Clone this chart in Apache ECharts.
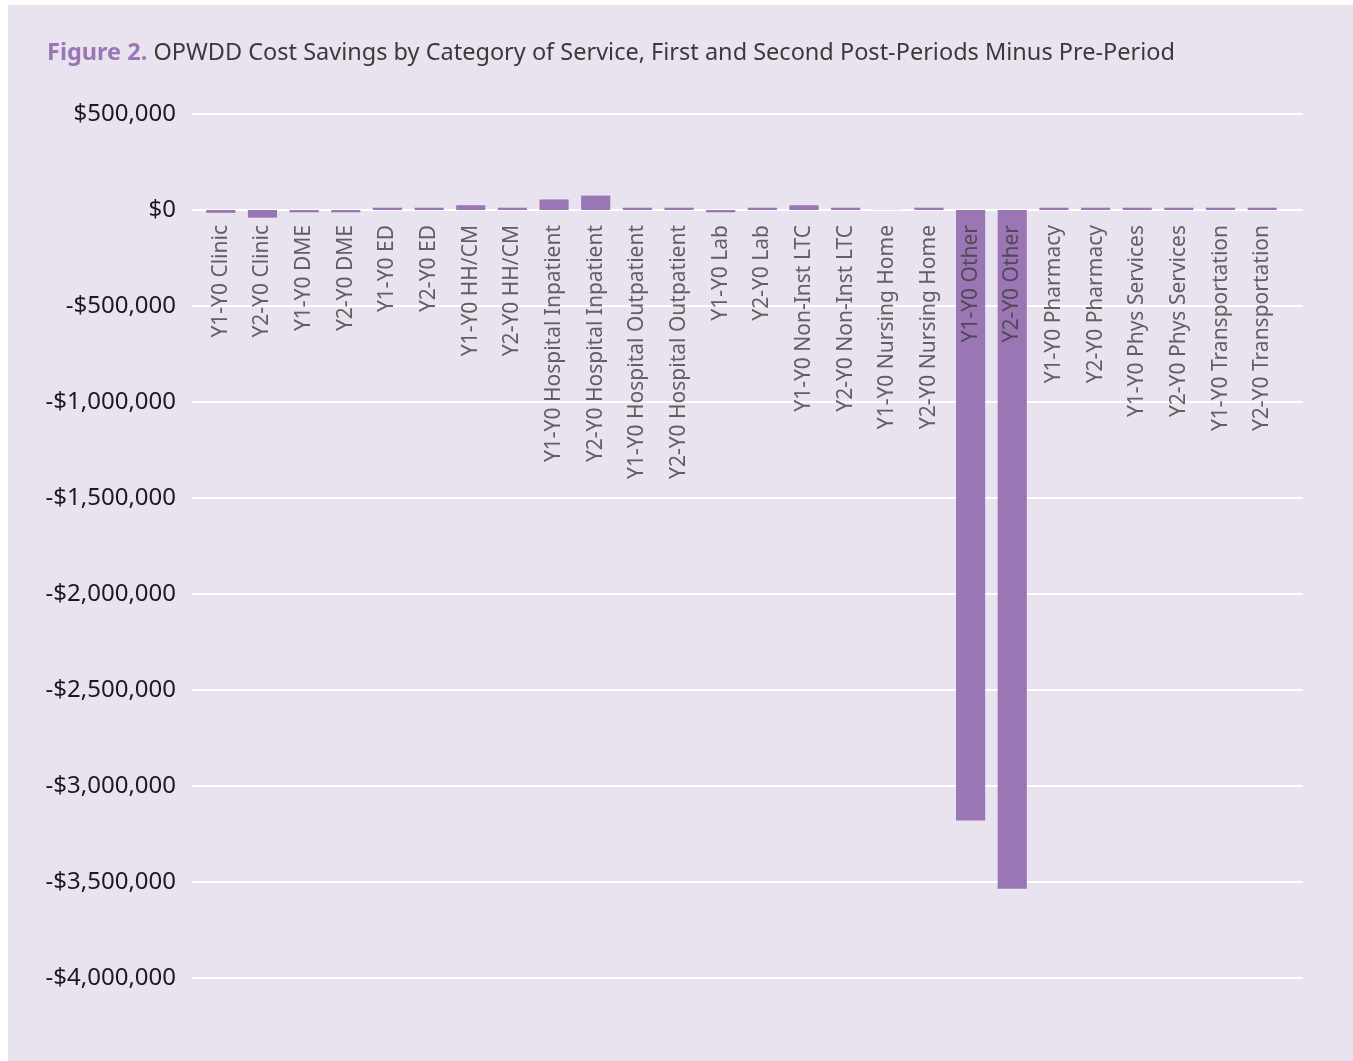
<!DOCTYPE html>
<html>
<head>
<meta charset="utf-8">
<script src="https://cdn.jsdelivr.net/npm/echarts@6/dist/echarts.min.js"></script>
<style>
  html, body { margin: 0; padding: 0; background: #ffffff; }
  #chart { position: absolute; left: 8px; top: 5px; width: 1345px; height: 1056px; background: #e9e3ef; }
</style>
</head>
<body>
<div id="chart"></div>
<script>
// categories (Y1 = first post-period, Y2 = second post-period, minus Y0 pre-period)
const categories = [
  'Y1-Y0 Clinic', 'Y2-Y0 Clinic',
  'Y1-Y0 DME', 'Y2-Y0 DME',
  'Y1-Y0 ED', 'Y2-Y0 ED',
  'Y1-Y0 HH/CM', 'Y2-Y0 HH/CM',
  'Y1-Y0 Hospital Inpatient', 'Y2-Y0 Hospital Inpatient',
  'Y1-Y0 Hospital Outpatient', 'Y2-Y0 Hospital Outpatient',
  'Y1-Y0 Lab', 'Y2-Y0 Lab',
  'Y1-Y0 Non-Inst LTC', 'Y2-Y0 Non-Inst LTC',
  'Y1-Y0 Nursing Home', 'Y2-Y0 Nursing Home',
  'Y1-Y0 Other', 'Y2-Y0 Other',
  'Y1-Y0 Pharmacy', 'Y2-Y0 Pharmacy',
  'Y1-Y0 Phys Services', 'Y2-Y0 Phys Services',
  'Y1-Y0 Transportation', 'Y2-Y0 Transportation'
];

// cost savings in dollars (estimated from the figure)
const savings = [
  -15000, -40000,
  -12000, -12000,
  12000, 12000,
  25000, 12000,
  55000, 75000,
  12000, 12000,
  -12000, 12000,
  25000, 12000,
  1000, 12000,
  -3180000, -3535000,
  12000, 12000,
  12000, 12000,
  12000, 12000
];

const yTicks = { min: -4000000, max: 500000, interval: 500000 };

const chart = echarts.init(document.getElementById('chart'), null, { renderer: 'canvas' });

const fmtMoney = v => {
  const s = '$' + Math.abs(v).toLocaleString('en-US');
  return v < 0 ? '-' + s : s;
};

const FONT = 'Noto Sans';

chart.setOption({
  backgroundColor: '#e9e3ef',
  animation: false,
  title: {
    left: 34,
    top: 31,
    text: '{b|Figure 2.} OPWDD Cost Savings by Category of Service, First and Second Post-Periods Minus Pre-Period',
    textStyle: {
      fontFamily: FONT,
      fontSize: 23.5,
      fontWeight: 'normal',
      color: '#3a3a3a',
      rich: {
        b: { fontFamily: FONT, fontSize: 23.5, fontWeight: 'bold', color: '#9b76b4' }
      }
    }
  },
  // grid 0 carries the gridlines and the y labels, grid 1 (a bit narrower) the bars
  grid: [
    { left: 184, right: 50, top: 109, bottom: 83, outerBoundsMode: 'none' },
    { left: 192, right: 70, top: 109, bottom: 83, outerBoundsMode: 'none' }
  ],
  xAxis: [
    { type: 'category', gridIndex: 0, data: categories, show: false },
    {
      type: 'category',
      gridIndex: 1,
      data: categories,
      axisLine: { show: false },
      axisTick: { show: false },
      axisLabel: { show: false }
    }
  ],
  yAxis: [
    {
      type: 'value',
      gridIndex: 0,
      min: yTicks.min,
      max: yTicks.max,
      interval: yTicks.interval,
      axisLine: { show: false },
      axisTick: { show: false },
      splitLine: { lineStyle: { color: '#ffffff', width: 2 } },
      axisLabel: {
        margin: 16,
        fontFamily: FONT,
        fontSize: 24,
        color: '#1a1a1a',
        formatter: fmtMoney
      }
    },
    {
      type: 'value',
      gridIndex: 1,
      min: yTicks.min,
      max: yTicks.max,
      interval: yTicks.interval,
      show: false,
      splitLine: { show: false }
    }
  ],
  series: [
    {
      type: 'bar',
      xAxisIndex: 1,
      yAxisIndex: 1,
      data: savings,
      barWidth: '70%',
      itemStyle: { color: '#9b76b4' },
      z: 3
    },
    {
      // category names hanging just below the zero line
      type: 'scatter',
      xAxisIndex: 1,
      yAxisIndex: 1,
      data: categories.map(c => [c, 0]),
      symbolSize: 0,
      silent: true,
      z: 5,
      label: {
        show: true,
        position: 'bottom',
        distance: 15,
        rotate: 90,
        align: 'right',
        verticalAlign: 'middle',
        formatter: p => p.value[0],
        fontFamily: FONT,
        fontSize: 21,
        color: '#3d3d3d'
      }
    }
  ]
});
</script>
</body>
</html>
